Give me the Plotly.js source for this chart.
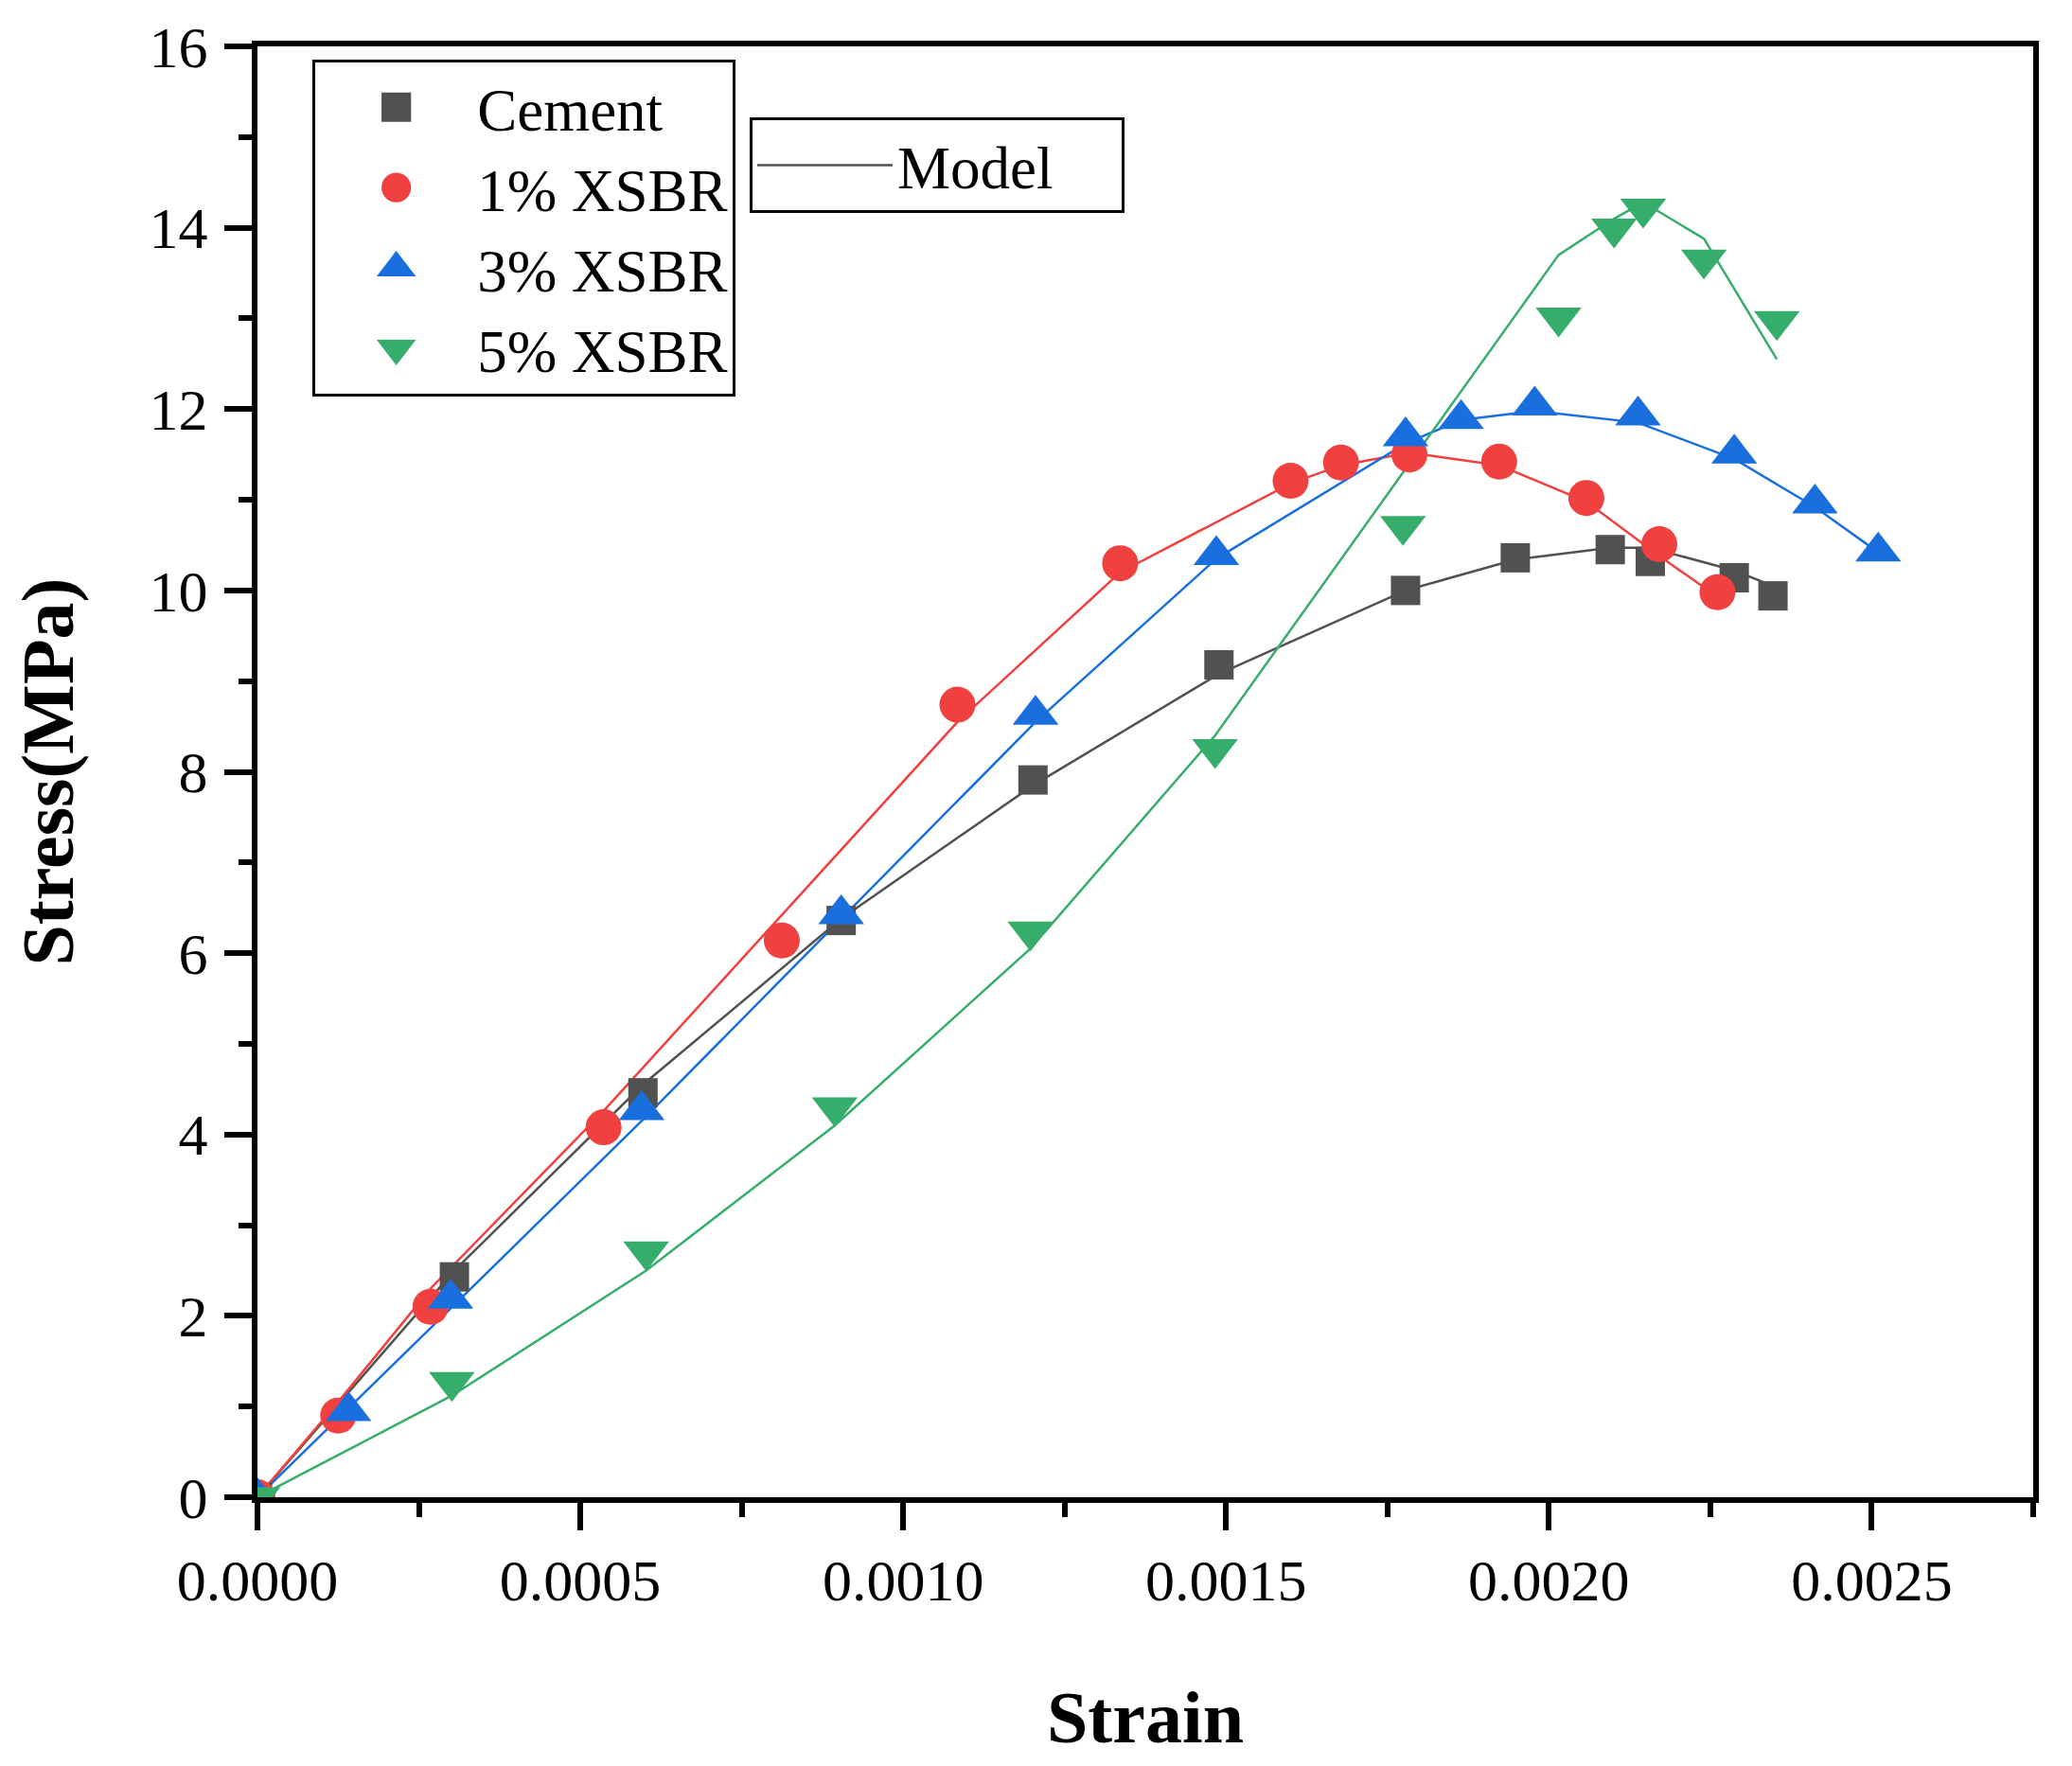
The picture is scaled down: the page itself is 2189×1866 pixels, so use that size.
<!DOCTYPE html>
<html>
<head>
<meta charset="utf-8">
<script src="https://cdn.plot.ly/plotly-3.0.1.min.js"></script>
<style>
  body { margin: 0; background: #fff; }
  #plot { width: 2189px; height: 1866px; }
</style>
</head>
<body>
<div id="plot"></div>
<script>
var cementStrain = [0, 0.000305, 0.000597, 0.000904, 0.001201, 0.001489, 0.001778, 0.001948, 0.002095, 0.002157, 0.002287, 0.002347];
var cementStress = [0, 2.43, 4.46, 6.36, 7.91, 9.18, 10.0, 10.36, 10.45, 10.32, 10.14, 9.94];
var cementModel  = [0, 2.50, 4.55, 6.38, 7.85, 9.08, 10.0, 10.34, 10.47, 10.47, 10.22, 10.05];

var xsbr1Strain = [0, 0.000125, 0.000268, 0.000536, 0.000812, 0.001084, 0.001336, 0.0016, 0.001678, 0.001784, 0.001923, 0.002058, 0.002171, 0.002261];
var xsbr1Stress = [0, 0.90, 2.10, 4.08, 6.14, 8.74, 10.30, 11.21, 11.41, 11.50, 11.42, 11.02, 10.51, 9.98];
var xsbr1Model  = [0, 1.05, 2.30, 4.26, 6.42, 8.55, 10.20, 11.18, 11.38, 11.52, 11.38, 10.98, 10.38, 9.93];

var xsbr3Strain = [0, 0.000141, 0.000299, 0.000595, 0.000904, 0.001205, 0.001485, 0.001778, 0.001864, 0.001978, 0.002138, 0.002287, 0.002412, 0.00251];
var xsbr3Stress = [0, 0.95, 2.19, 4.27, 6.43, 8.63, 10.39, 11.70, 11.89, 12.04, 11.93, 11.51, 10.96, 10.43];
var xsbr3Model  = [0, 0.98, 2.08, 4.15, 6.38, 8.55, 10.35, 11.62, 11.88, 11.98, 11.85, 11.45, 10.92, 10.42];

var xsbr5Strain = [0, 0.000301, 0.000602, 0.000894, 0.001197, 0.001483, 0.001774, 0.002015, 0.002101, 0.002146, 0.00224, 0.002353];
var xsbr5Stress = [0, 1.27, 2.71, 4.30, 6.24, 8.25, 10.71, 13.01, 13.99, 14.21, 13.65, 12.97];
var xsbr5Model  = [0, 1.12, 2.50, 4.10, 6.05, 8.40, 11.30, 13.70, 14.10, 14.28, 13.88, 12.55];

var grey = "#515151", red = "#F14040", blue = "#1A6FDF", green = "#37AD6B";
var serif = "Liberation Serif, Times New Roman, serif";

// model curves first so the symbols sit on top
var modelCement = { x: cementStrain, y: cementModel, mode: "lines", name: "Model",
  line: { color: grey, width: 2.5 }, legend: "legend2" };
var model1 = { x: xsbr1Strain, y: xsbr1Model, mode: "lines", showlegend: false, line: { color: red, width: 2.5 } };
var model3 = { x: xsbr3Strain, y: xsbr3Model, mode: "lines", showlegend: false, line: { color: blue, width: 2.5 } };
var model5 = { x: xsbr5Strain, y: xsbr5Model, mode: "lines", showlegend: false, line: { color: green, width: 2.5 } };

var cement = { x: cementStrain, y: cementStress, mode: "markers", name: "Cement",
  marker: { symbol: "square", size: 31, color: grey } };
var xsbr1 = { x: xsbr1Strain, y: xsbr1Stress, mode: "markers", name: "1% XSBR",
  marker: { symbol: "circle", size: 38, color: red } };
var xsbr3 = { x: xsbr3Strain, y: xsbr3Stress, mode: "markers", name: "3% XSBR",
  marker: { symbol: "triangle-up", size: 42, color: blue } };
var xsbr5 = { x: xsbr5Strain, y: xsbr5Stress, mode: "markers", name: "5% XSBR",
  marker: { symbol: "triangle-down", size: 42, color: green } };

var data = [modelCement, model1, model3, model5, cement, xsbr1, xsbr3, xsbr5];

var layout = {
  width: 2189, height: 1866,
  margin: { l: 272, r: 41, t: 49, b: 284 },
  paper_bgcolor: "#fff", plot_bgcolor: "#fff",
  font: { family: serif, size: 62, color: "#000" },
  showlegend: true,
  xaxis: {
    range: [0, 0.00275], dtick: 0.0005, tick0: 0, tickformat: ".4f",
    showgrid: false, zeroline: false,
    showline: true, mirror: true, linecolor: "#000", linewidth: 6,
    ticks: "outside", ticklen: 29, tickwidth: 6, tickcolor: "#000",
    ticklabelstandoff: 0,
    minor: { dtick: 0.00025, ticks: "outside", ticklen: 15, tickwidth: 6, tickcolor: "#000" },
    title: { text: "<b>Strain</b>", font: { size: 78 }, standoff: 85 }
  },
  yaxis: {
    range: [0, 16], dtick: 2, tick0: 0,
    showgrid: false, zeroline: false,
    showline: true, mirror: true, linecolor: "#000", linewidth: 6,
    ticks: "outside", ticklen: 29, tickwidth: 6, tickcolor: "#000",
    ticklabelstandoff: 5,
    minor: { dtick: 1, ticks: "outside", ticklen: 14, tickwidth: 6, tickcolor: "#000" },
    title: { text: "<b>Stress(MPa)</b>", font: { size: 78 }, standoff: 56 }
  },
  legend: {
    x: 0.031, y: 0.991, xanchor: "left", yanchor: "top",
    bgcolor: "#fff", bordercolor: "#000", borderwidth: 3,
    font: { size: 63 }, itemwidth: 161
  },
  legend2: {
    x: 0.2772, y: 0.951, xanchor: "left", yanchor: "top",
    orientation: "h", entrywidth: 232,
    bgcolor: "#fff", bordercolor: "#000", borderwidth: 3,
    font: { size: 63 }, itemwidth: 143
  }
};

Plotly.newPlot("plot", data, layout, { staticPlot: true }).then(function (gd) {
  // legend symbols are capped at 16px by plotly, enlarge them to match the plot symbols
  gd.querySelectorAll(".legend .legendpoints path.scatterpts").forEach(function (p) {
    var d = p.getAttribute("d") || "";
    var k = /L0/.test(d) ? 2.25 : 1.95;
    var t = p.getAttribute("transform") || "";
    p.setAttribute("transform", t + " scale(" + k + ")");
  });
});
</script>
</body>
</html>
